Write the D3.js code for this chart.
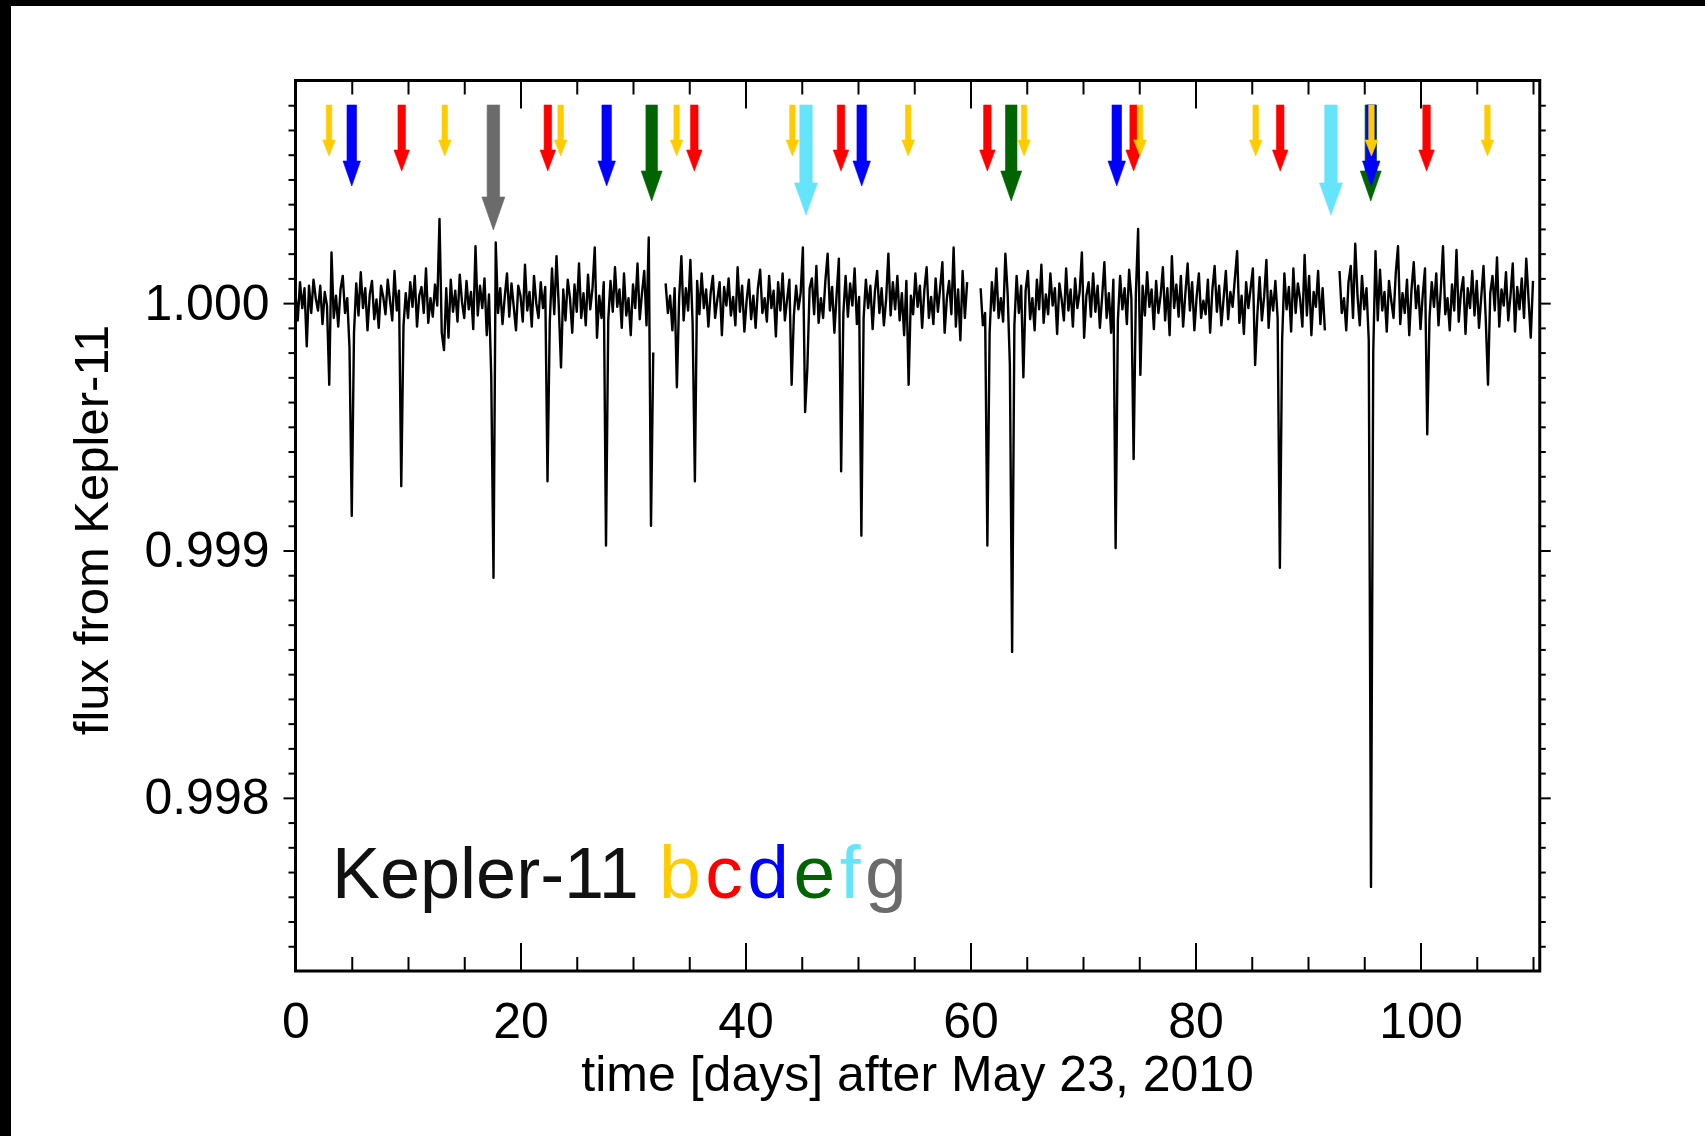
<!DOCTYPE html>
<html><head><meta charset="utf-8">
<script src="https://cdn.jsdelivr.net/npm/d3@7"></script>
<style>
html,body{margin:0;padding:0;background:#fff;}
svg{display:block;}
text{font-family:"Liberation Sans", Arial, Helvetica, sans-serif;}
</style>
</head><body>
<svg id="chart" width="1705" height="1136"></svg>
<script>
// ---------------- data ----------------
const planetNames = ["b", "c", "d", "e", "f", "g"];
const planetColors = ["#ffcc00", "#ff0000", "#0000ff", "#006400", "#66e4fb", "#6b6b6b"];

// transit mid-times (days after May 23, 2010)
const transitsB = [2.98, 13.27, 23.57, 33.88, 44.17, 54.46, 64.76, 75.07, 85.35, 95.64, 105.95];
const transitsC = [9.44, 22.43, 35.45, 48.49, 61.50, 74.50, 87.53, 100.54];
const transitsD = [5.00, 27.66, 50.33, 73.00, 95.62];
const transitsE = [31.66, 63.62, 95.58];
const transitsF = [45.38, 92.04];
const transitsG = [17.59];

// light curve: relative flux deviation in ppm, sampled every 0.2 d, four data segments
const segmentStarts = [0.0, 32.9, 60.9, 92.8];
const sampleStep = 0.2;
const fluxSeg1Ppm = [
  40, -70, 85, -20, 60, -175, 70, -40, 95, 20,
  -30, 70, -85, 45, -10, -330, 205, -60, 30, -95,
  55, 110, -40, 20, -180, -860, -120, 80, -50, 125,
  -20, 60, -110, 35, 90, -65, 15, -100, 70, 25,
  -45, 95, 10, -70, 130, -30, 50, -740, -90, 40,
  -60, 85, -15, 110, -95, 30, 65, -40, 140, -80,
  20, -55, 75, -10, 340, -120, -190, 60, -140, 95,
  -35, 50, -75, 115, 5, -60, 90, -25, 45, -105,
  230, -50, 70, -20, 100, -130, 35, -300, -1110, 245,
  -40, 60, -85, 25, 120, -55, 80, -15, -110, 70,
  30, -75, 155, -30, 45, -95, 110, 0, -60, 85,
  -20, 65, -720, -80, 140, -45, 190, -10, -260, 55,
  -70, 95, 20, -120, 75, -35, 160, -60, 40, -90,
  115, -25, 60, 225, -140, 30, -60, 85, -980, -70,
  90, -35, 145, -15, 55, -100, 120, -50, 20, -130,
  75, -20, 160, -65, 40, 130, -90, 265, -900, -200
];
const fluxSeg2Ppm = [
  80, -40, 30, -110, 60, -340, 20, 190, -70, 60,
  -30, 175, -85, -720, 90, -45, 120, -20, 55, -95,
  40, 110, -60, 15, 85, -130, 65, -10, 100, -50,
  25, -90, 145, -35, 70, -115, 10, 95, -65, 30,
  -100, 60, 135, -40, 20, -75, 110, -20, 50, -135,
  85, -30, 120, -70, 15, 95, -330, -50, 70, -25,
  40, 225, -440, -260, 60, 100, -45, 150, -80, 20,
  -60, 90, 200, -30, 65, -120, 35, 180, -680, -40,
  110, -55, 80, -10, 140, -85, 25, -940, -60, 95,
  -20, 70, -105, 45, 130, -40, 60, -90, 15, 200,
  -50, 85, -25, 110, -70, 40, -130, 90, -330, 30,
  -45, 120, -15, 70, -100, 55, 145, -60, 25, -85,
  100, -35, 60, 165, -120, 20, 90, -45, 225, -95,
  55, -150, 130, -60, 85
];
const fluxSeg3Ppm = [
  60, -90, -40, -980, -120, 85, -30, 140, -60, 20,
  -75, 200, 40, -250, -1410, -90, 110, -40, 70, -300,
  50, 130, -65, 20, -110, 95, -25, 155, -80, 35,
  -45, 120, -10, 60, -125, 80, 15, -70, 140, -30,
  55, -95, 100, -20, 45, 205, -140, 30, 85, -55,
  120, -35, 70, -100, 25, 165, -60, 40, -120, 95,
  -990, -70, 110, -25, 60, -85, 135, 20, -630, 40,
  300, -290, 70, -50, 125, -15, 55, -105, 90, -40,
  30, 145, -70, 60, -130, 190, -20, 75, -55, 110,
  -95, 40, 160, -30, 85, -110, 25, 120, -60, 10,
  -45, 95, -120, 55, 150, -35, 70, -90, 20, 130,
  -65, 45, -15, 100, 210, -80, 30, -125, 85, -20,
  60, 140, -250, -45, 105, -70, 25, 175, -100, 50,
  -30, 90, -60, -1070, -150, 120, -25, 65, -115, 140,
  -40, 80, 15, -95, 195, -50, 110, -130, 45, -15,
  130, -85, 60, -110
];
const fluxSeg4Ppm = [
  130, -40, 20, -110, 85, 150, -60, 240, 30, -90,
  110, -25, 60, -150, -2360, -200, 210, -70, 135, -30,
  45, -115, 90, 10, -60, 120, 230, -85, 40, -40,
  95, -130, 55, 165, -20, 70, -105, 35, 140, -530,
  -60, 85, -15, 120, -90, 50, 230, -45, 20, -110,
  75, -30, 215, -75, 45, 105, -125, 60, -20, 130,
  -50, 90, -100, 25, 150, -65, -330, 40, 110, -30,
  185, -95, 55, -10, 125, -70, 30, 160, -115, 65,
  -25, 100, -60, 180, 20, -140, 90
];

// axis ticks
const xMajorTicks = [0, 20, 40, 60, 80, 100];
const xMinorTicks = [5, 10, 15, 25, 30, 35, 45, 50, 55, 65, 70, 75, 85, 90, 95, 105, 110];
const yMajorTicks = [0.998, 0.999, 1.000];
const yTickLabels = ["0.998", "0.999", "1.000"];
const yMinorTicks = [0.9974, 0.9975, 0.9976, 0.9977, 0.9978, 0.9979, 0.9981, 0.9982, 0.9983, 0.9984,
  0.9985, 0.9986, 0.9987, 0.9988, 0.9989, 0.9991, 0.9992, 0.9993, 0.9994, 0.9995, 0.9996, 0.9997,
  0.9998, 0.9999, 1.0001, 1.0002, 1.0003, 1.0004, 1.0005, 1.0006, 1.0007, 1.0008];

// ---------------- styles / layout ----------------
const W = 1705, H = 1136;
const plot = {left: 295.5, right: 1539.75, top: 80.5, bottom: 971};
const arrowTop = 105;
const arrowStyle = {
  b: {shaft: 5.5, head: 12.5, headLen: 16, len: 51},
  c: {shaft: 7.5, head: 15.5, headLen: 21, len: 66},
  d: {shaft: 9.5, head: 17.5, headLen: 25, len: 81},
  e: {shaft: 11.5, head: 21, headLen: 30, len: 96},
  f: {shaft: 12.5, head: 23, headLen: 32, len: 110},
  g: {shaft: 12.5, head: 23, headLen: 33, len: 125}
};

const svg = d3.select("#chart");
svg.append("rect").attr("width", W).attr("height", H).attr("fill", "#fff");
svg.append("rect").attr("x", 0).attr("y", 0).attr("width", W).attr("height", 6).attr("fill", "#000");
svg.append("rect").attr("x", 0).attr("y", 0).attr("width", 11).attr("height", H).attr("fill", "#000");

const x = d3.scaleLinear().domain([0, 110.6]).range([plot.left, plot.right]);
const y = d3.scaleLinear().domain([0.99730, 1.00090]).range([plot.bottom, plot.top]);

// ---- axes ----
function styleAxis(g, w) {
  g.select(".domain").remove();
  g.selectAll(".tick line").attr("stroke", "#000").attr("stroke-width", w || 2);
}
const fs = 50;
// bottom
svg.append("g").attr("transform", `translate(0,${plot.bottom})`)
  .call(d3.axisBottom(x).tickValues(xMajorTicks).tickSize(-28).tickSizeOuter(0).tickPadding(31).tickFormat(d3.format("d")))
  .call(g => { styleAxis(g); g.selectAll("text").attr("font-size", fs).attr("fill", "#000")
      .style("font-family", '"Liberation Sans", Arial, sans-serif'); });
svg.append("g").attr("transform", `translate(0,${plot.bottom})`)
  .call(d3.axisBottom(x).tickValues(xMinorTicks).tickSize(-14).tickSizeOuter(0).tickFormat(""))
  .call(g => styleAxis(g));
// top
svg.append("g").attr("transform", `translate(0,${plot.top})`)
  .call(d3.axisTop(x).tickValues(xMajorTicks).tickSize(-28).tickSizeOuter(0).tickFormat(""))
  .call(g => styleAxis(g));
svg.append("g").attr("transform", `translate(0,${plot.top})`)
  .call(d3.axisTop(x).tickValues(xMinorTicks).tickSize(-14).tickSizeOuter(0).tickFormat(""))
  .call(g => styleAxis(g));
// left
svg.append("g").attr("transform", `translate(${plot.left},0)`)
  .call(d3.axisLeft(y).tickValues(yMajorTicks).tickSize(12).tickSizeOuter(0).tickPadding(14)
        .tickFormat((d, i) => yTickLabels[i]))
  .call(g => { styleAxis(g); g.selectAll("text").attr("font-size", fs).attr("fill", "#000")
      .style("font-family", '"Liberation Sans", Arial, sans-serif'); });
svg.append("g").attr("transform", `translate(${plot.left},0)`)
  .call(d3.axisLeft(y).tickValues(yMinorTicks).tickSize(7).tickSizeOuter(0).tickFormat(""))
  .call(g => styleAxis(g));
// right
svg.append("g").attr("transform", `translate(${plot.right},0)`)
  .call(d3.axisRight(y).tickValues(yMajorTicks).tickSize(11).tickSizeOuter(0).tickFormat(""))
  .call(g => styleAxis(g));
svg.append("g").attr("transform", `translate(${plot.right},0)`)
  .call(d3.axisRight(y).tickValues(yMinorTicks).tickSize(6).tickSizeOuter(0).tickFormat(""))
  .call(g => styleAxis(g));

// frame
svg.append("rect").attr("x", plot.left).attr("y", plot.top)
  .attr("width", plot.right - plot.left).attr("height", plot.bottom - plot.top)
  .attr("fill", "none").attr("stroke", "#000").attr("stroke-width", 3);

// ---- light curve ----
const segments = [fluxSeg1Ppm, fluxSeg2Ppm, fluxSeg3Ppm, fluxSeg4Ppm].map((vals, s) =>
  vals.map((v, i) => ({t: segmentStarts[s] + i * sampleStep, f: 1 + v / 1e6})));
const line = d3.line().x(d => x(d.t)).y(d => y(d.f));
svg.append("g").selectAll("path").data(segments).join("path")
  .attr("d", line).attr("fill", "none").attr("stroke", "#000")
  .attr("stroke-width", 2.4).attr("stroke-linejoin", "round");

// ---- transit arrows (largest first) ----
const allTransits = [transitsB, transitsC, transitsD, transitsE, transitsF, transitsG];
const arrowData = [];
for (let p = planetNames.length - 1; p >= 0; p--) {
  allTransits[p].forEach(t => arrowData.push({t, p: planetNames[p], color: planetColors[p]}));
}
function arrowPath(d) {
  const s = arrowStyle[d.p], cx = x(d.t), y0 = arrowTop, yh = y0 + s.len - s.headLen, yt = y0 + s.len;
  return `M${cx - s.shaft / 2},${y0}L${cx + s.shaft / 2},${y0}L${cx + s.shaft / 2},${yh}` +
         `L${cx + s.head / 2},${yh}L${cx},${yt}L${cx - s.head / 2},${yh}L${cx - s.shaft / 2},${yh}Z`;
}
svg.append("g").selectAll("path").data(arrowData).join("path")
  .attr("d", arrowPath).attr("fill", d => d.color)
  .attr("stroke", d => d.color).attr("stroke-width", 0.6).attr("stroke-linejoin", "round");

// ---- labels ----
svg.append("text").attr("x", (plot.left + plot.right) / 2).attr("y", 1091)
  .attr("text-anchor", "middle").attr("font-size", 50).attr("fill", "#000")
  .text("time [days] after May 23, 2010");
svg.append("text").attr("transform", "translate(108,530) rotate(-90)")
  .attr("text-anchor", "middle").attr("font-size", 49).attr("fill", "#000")
  .text("flux from Kepler-11");

const legend = svg.append("text").attr("x", 332).attr("y", 898).attr("font-size", 72).attr("fill", "#111");
legend.append("tspan").text("Kepler-11");
const letters = legend.append("tspan").attr("x", 659).attr("font-size", 75).attr("letter-spacing", 4.5);
planetNames.forEach((n, i) => letters.append("tspan").attr("fill", planetColors[i]).text(n));
</script>
</body></html>
